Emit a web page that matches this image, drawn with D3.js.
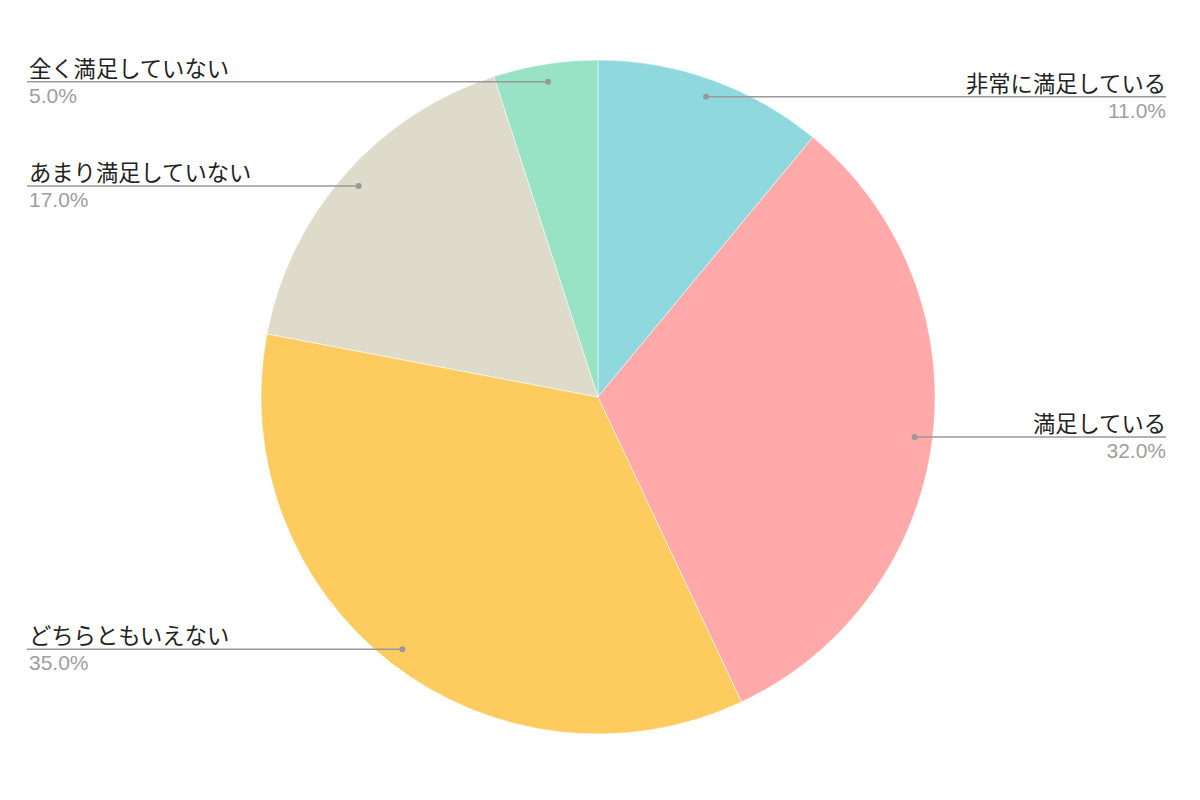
<!DOCTYPE html>
<html>
<head>
<meta charset="utf-8">
<script src="https://cdn.jsdelivr.net/npm/d3@7"></script>
<style>
  html, body { margin: 0; padding: 0; background: #fff; }
  svg { display: block; }
</style>
</head>
<body>
<svg id="chart" width="1200" height="800"></svg>
<script>
const categories = ["非常に満足している", "満足している", "どちらともいえない", "あまり満足していない", "全く満足していない"];
const values = [11.0, 32.0, 35.0, 17.0, 5.0];
const colors = ["#8ed8de", "#ffa9aa", "#fecc5e", "#dfdbcb", "#98e2c5"];

const W = 1200, H = 800;
const cx = 598, cy = 397, R = 337;
const leftX = 27, rightX = 1166;

const svg = d3.select("#chart");
const g = svg.append("g").attr("transform", `translate(${cx},${cy})`);

const pie = d3.pie().sort(null).value(d => d)(values);
const arc = d3.arc().innerRadius(0).outerRadius(R);

g.selectAll("path.slice").data(pie).join("path")
  .attr("class", "slice")
  .attr("d", arc)
  .attr("fill", (d, i) => colors[i])
  .attr("stroke", "#fff")
  .attr("stroke-width", 0.5);

const labelR = R * 0.947;

pie.forEach((d, i) => {
  const a = (d.startAngle + d.endAngle) / 2;
  const px = cx + labelR * Math.sin(a);
  const py = cy - labelR * Math.cos(a);
  const right = Math.sin(a) >= 0;
  const ex = right ? rightX : leftX;
  const tx = right ? rightX : leftX + 2;
  svg.append("line")
    .attr("x1", px).attr("y1", py).attr("x2", ex).attr("y2", py)
    .attr("stroke", "#999").attr("stroke-width", 1.5);
  svg.append("circle")
    .attr("cx", px).attr("cy", py).attr("r", 3).attr("fill", "#999");
  svg.append("text")
    .attr("x", tx).attr("y", py - 5)
    .attr("text-anchor", right ? "end" : "start")
    .attr("font-family", "'Noto Sans CJK JP', sans-serif")
    .attr("font-size", 22.3)
    .attr("fill", "#222")
    .text(categories[i]);
  svg.append("text")
    .attr("x", tx).attr("y", py + 21)
    .attr("text-anchor", right ? "end" : "start")
    .attr("font-family", "'Liberation Sans', Arial, sans-serif")
    .attr("font-size", 21)
    .attr("fill", "#9e9e9e")
    .text(values[i].toFixed(1) + "%");
});
</script>
</body>
</html>
